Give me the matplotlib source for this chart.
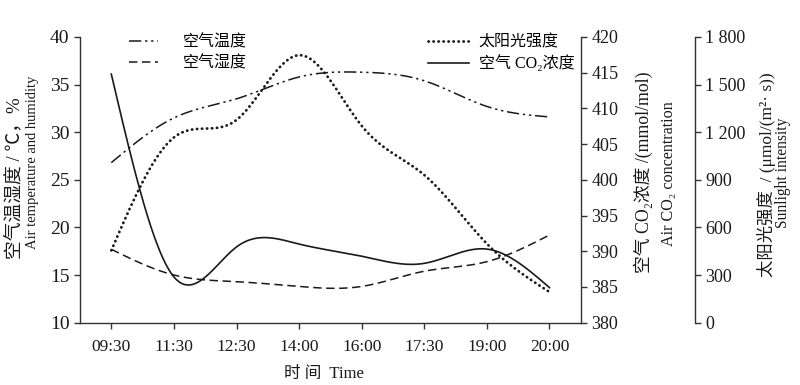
import numpy as np
import matplotlib.pyplot as plt
from matplotlib.ticker import FuncFormatter, MultipleLocator
from matplotlib.lines import Line2D

plt.rcParams['font.family'] = ['Liberation Serif', 'Noto Sans CJK SC', 'DejaVu Serif']

# data
times = ["09:30", "11:30", "12:30", "14:00", "16:00", "17:30", "19:00", "20:00"]
air_temp = [26.8, 31.5, 33.5, 35.8, 36.3, 35.4, 32.7, 31.6]
air_humidity = [17.7, 15.0, 14.3, 13.8, 13.8, 15.4, 16.4, 19.2]
co2 = [414.8, 386.4, 390.6, 391.0, 389.3, 388.3, 390.3, 384.9]
sunlight = [455, 1167, 1277, 1685, 1240, 930, 497, 193]

INK = '#1a1a1a'


def spline(y, n=40):
    # natural cubic spline through the points, for drawing a smooth line
    y = np.asarray(y, float)
    N = len(y)
    A = np.zeros((N, N))
    r = np.zeros(N)
    A[0, 0] = A[-1, -1] = 1
    for i in range(1, N - 1):
        A[i, i - 1:i + 2] = [1, 4, 1]
        r[i] = 6 * (y[i + 1] - 2 * y[i] + y[i - 1])
    M = np.linalg.solve(A, r)
    xs = np.linspace(0, N - 1, (N - 1) * n + 1)
    i = np.minimum(xs.astype(int), N - 2)
    t = xs - i
    u = 1 - t
    ys = u * y[i] + t * y[i + 1] + (u**3 - u) * M[i] / 6 + (t**3 - t) * M[i + 1] / 6
    return xs, ys


fig = plt.figure(figsize=(8, 3.85), dpi=100)
ax = fig.add_axes([0.1, 0.162, 0.626, 0.742])
ax2 = ax.twinx()
ax3 = ax.twinx()
ax3.spines['right'].set_position(('outward', 82))

st_temp = dict(color=INK, lw=1.1, linestyle=(0, (8, 2.5, 1.5, 2.5, 1.5, 2.5)))
st_hum = dict(color=INK, lw=1.1, linestyle=(0, (5.5, 3)))
st_sun = dict(color=INK, lw=2.0, linestyle=(0, (0.1, 1.7)), dash_capstyle='round')
st_co2 = dict(color=INK, lw=1.2, linestyle='-')

ax.plot(*spline(air_temp), **st_temp)
ax.plot(*spline(air_humidity), **st_hum)
ax2.plot(*spline(co2), **st_co2)
ax3.plot(*spline(sunlight), **st_sun)

ax.set_xlim(-0.5, 7.5)
ax.set_ylim(10, 40)
ax.yaxis.set_major_locator(MultipleLocator(5))
ax.set_xticks(range(len(times)))
ax.set_xticklabels(times)
ax2.set_ylim(380, 420)
ax2.yaxis.set_major_locator(MultipleLocator(5))
ax3.set_ylim(0, 1800)
ax3.yaxis.set_major_locator(MultipleLocator(300))
ax3.yaxis.set_major_formatter(FuncFormatter(lambda v, p: f"{int(v):,}".replace(',', ' ')))

for a in (ax, ax2, ax3):
    a.spines['top'].set_visible(False)
    for s in a.spines.values():
        s.set_color('#333333')
        s.set_linewidth(1.0)
    a.tick_params(colors='#333333', labelcolor=INK, labelsize=13, length=4, width=1.0)
ax.tick_params(axis='y', labelsize=14)
ax.tick_params(axis='x', labelsize=12.5, pad=8)
ax.spines['right'].set_visible(False)
ax2.spines['left'].set_visible(False)
ax3.spines['left'].set_visible(False)
ax2.spines['bottom'].set_visible(False)
ax3.spines['bottom'].set_visible(False)

# axis titles, one text per line
W, H = 800, 385


def vtext(x, y, s, size):
    fig.text(x / W, 1 - y / H, s, rotation=90, ha='center', va='center',
             fontsize=size, color=INK)


vtext(14, 178, "空气温湿度 / ℃，%", 13.5)
vtext(33, 162, "Air temperature and humidity", 10.5)
vtext(643, 172, "空气 CO₂浓度 /(mmol/mol)", 12.8)
vtext(669, 174, "Air CO₂ concentration", 11.6)
vtext(766, 175, "太阳光强度  / (μmol/(m²· s))", 12.5)
vtext(783, 173, "Sunlight intensity", 11.2)
fig.text(324 / W, 1 - 374 / H, "时 间  Time", ha='center', va='center',
         fontsize=12, color=INK)

h_left = [Line2D([], [], **st_temp), Line2D([], [], **st_hum)]
h_right = [Line2D([], [], **st_sun), Line2D([], [], **st_co2)]
leg1 = ax3.legend(h_left, ["空气温度", "空气湿度"], loc='upper left',
                  bbox_to_anchor=(0.085, 1.03), frameon=False, fontsize=11.5,
                  handlelength=1.8, handletextpad=1.6, labelspacing=0.3,
                  borderaxespad=0)
ax3.add_artist(leg1)
ax3.legend(h_right, ["太阳光强度", "空气 CO₂浓度"], loc='upper right',
           bbox_to_anchor=(1.0, 1.03), frameon=False, fontsize=11.5,
           handlelength=2.6, handletextpad=0.6, labelspacing=0.3,
           borderaxespad=0)

fig.savefig("out.png", dpi=100)
